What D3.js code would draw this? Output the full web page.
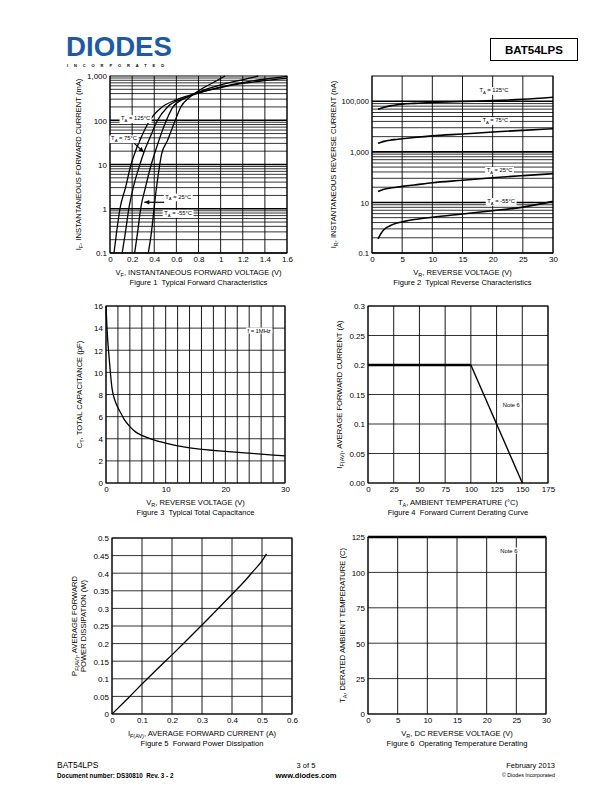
<!DOCTYPE html>
<html><head><meta charset="utf-8">
<script src="https://cdn.jsdelivr.net/npm/d3@7"></script>
<style>body{margin:0;background:#fff}svg{display:block}text{font-family:"Liberation Sans",Arial,sans-serif;fill:#000;white-space:pre}</style>
</head><body><svg id="c" width="612" height="792"></svg>
<script>
// ---------- DATA ----------
// Figure 1: forward characteristics [V_F (V), I_F (mA)]
const f1T125 = [[0.036,0.1],[0.06,0.3],[0.09,1],[0.14,3],[0.19,10],[0.23,20],[0.28,40],[0.36,100],[0.46,190],[0.6,290],[0.8,420],[1.0,550],[1.2,680],[1.4,790],[1.6,880]];
const f1T75  = [[0.11,0.1],[0.14,0.3],[0.17,1],[0.21,3],[0.27,10],[0.31,20],[0.36,40],[0.43,100],[0.52,200],[0.65,300],[0.85,450],[1.05,600],[1.25,750],[1.45,880],[1.6,980]];
const f1T25  = [[0.223,0.1],[0.25,0.3],[0.277,1],[0.32,3],[0.373,10],[0.41,20],[0.45,40],[0.51,100],[0.57,200],[0.68,320],[0.85,480],[1.05,680],[1.25,880],[1.34,1000]];
const f1Tm55 = [[0.346,0.1],[0.375,0.3],[0.398,1],[0.42,3],[0.45,10],[0.466,17],[0.52,35],[0.59,100],[0.64,200],[0.72,330],[0.85,550],[0.95,750],[1.04,1000]];
const f1XTicks = [0,0.2,0.4,0.6,0.8,1,1.2,1.4,1.6];
const f1XLabels = ["0","0.2","0.4","0.6","0.8","1","1.2","1.4","1.6"];
const f1YTicks = [0.1,1,10,100,1000];
const f1YLabels = ["0.1","1","10","100","1,000"];

// Figure 2: reverse characteristics, V_R (V) vs I_R (nA)
const f2V    = [1,1.5,2,3,4,5,7,10,15,20,25,30];
const f2T125 = [48000,53000,58000,66000,72000,77000,83000,90000,98000,106000,120000,145000];
const f2T75  = [2200,2400,2600,2900,3100,3300,3700,4300,5100,6100,7100,8200];
const f2T25  = [27,30,33,37,40,43,49,60,75,95,115,137];
const f2Tm55 = [0.36,0.6,0.85,1.2,1.5,1.7,2.1,2.6,3.5,4.7,6.5,11];
const f2XTicks = [0,5,10,15,20,25,30];
const f2YTicks = [0.1,10,1000,100000];
const f2YLabels = ["0.1","10","1,000","100,000"];

// Figure 3: total capacitance
const f3V = [0,0.15,0.3,0.5,0.8,1.0,1.3,1.6,2,2.5,3,4,5,6,8,10,12,15,20,25,30];
const f3C = [16,14.2,12.8,11.5,9.6,8.6,7.8,7.3,6.8,6.3,5.8,5.1,4.6,4.3,3.9,3.6,3.35,3.1,2.85,2.65,2.45];
const f3XTicks = [0,10,20,30];
const f3YTicks = [0,2,4,6,8,10,12,14,16];

// Figure 4: forward current derating
const f4T = [0,100,150];
const f4I = [0.2,0.2,0];
const f4XTicks = [0,25,50,75,100,125,150,175];
const f4YTicks = [0,0.05,0.1,0.15,0.2,0.25,0.3];
const f4YLabels = ["0.00","0.05","0.1","0.15","0.2","0.25","0.3"];

// Figure 5: forward power dissipation
const f5I = [0,0.05,0.1,0.15,0.2,0.25,0.3,0.35,0.4,0.45,0.47,0.5,0.515];
const f5P = [0,0.042,0.085,0.127,0.168,0.21,0.253,0.296,0.34,0.385,0.405,0.435,0.455];
const f5XTicks = [0,0.1,0.2,0.3,0.4,0.5,0.6];
const f5YTicks = [0,0.05,0.1,0.15,0.2,0.25,0.3,0.35,0.4,0.45,0.5];

// Figure 6: operating temperature derating
const f6V = [0,30];
const f6T = [125,125];
const f6XTicks = [0,5,10,15,20,25,30];
const f6YTicks = [0,25,50,75,100,125];

// ---------- DRAWING ----------
const svg = d3.select("#c");
const FS_TICK = 8, FS_TITLE = 7.6, FS_CAP = 7.6;

function rich(sel, parts, fs) {
  let shift = 0;
  parts.forEach(p => {
    const sub = p.startsWith("_");
    const target = sub ? fs * 0.3 : 0;
    sel.append("tspan").attr("dy", target - shift)
      .attr("font-size", sub ? fs * 0.72 : fs).text(sub ? p.slice(1) : p);
    shift = target;
  });
}

function panel(o) {
  const g = svg.append("g");
  const x = o.x, y = o.y;
  const [X0, X1] = x.range();
  const [Y1, Y0] = y.range();
  g.selectAll(null).data(o.hgrid).join("line")
    .attr("x1", X0).attr("x2", X1).attr("y1", d => y(d.v)).attr("y2", d => y(d.v))
    .attr("stroke", "#000").attr("stroke-width", d => d.w || 0.8);
  g.selectAll(null).data(o.vgrid).join("line")
    .attr("y1", Y0).attr("y2", Y1).attr("x1", d => x(d)).attr("x2", d => x(d))
    .attr("stroke", "#000").attr("stroke-width", 0.9);
  g.append("rect").attr("x", X0).attr("y", Y0).attr("width", X1 - X0).attr("height", Y1 - Y0)
    .attr("fill", "none").attr("stroke", "#000").attr("stroke-width", 1);
  const ax = g.append("g").attr("transform", `translate(0,${Y1})`)
    .call(d3.axisBottom(x).tickValues(o.xticks).tickFormat((d, i) => o.xlabels ? o.xlabels[i] : d).tickSize(0).tickPadding(3));
  const ay = g.append("g").attr("transform", `translate(${X0},0)`)
    .call(d3.axisLeft(y).tickValues(o.yticks).tickFormat((d, i) => o.ylabels ? o.ylabels[i] : d).tickSize(0).tickPadding(3));
  [ax, ay].forEach(a => {
    a.select(".domain").remove();
    a.attr("font-family", null).attr("font-size", null);
    a.selectAll("text").attr("font-size", FS_TICK).attr("fill", "#000");
  });
  if (o.yTickFs) ay.selectAll("text").attr("font-size", o.yTickFs);
  ay.selectAll("text").attr("dy", "0.35em");
  const cx = (X0 + X1) / 2;
  const xt = g.append("text").attr("x", cx).attr("y", Y1 + 21.5).attr("text-anchor", "middle");
  rich(xt, o.xtitle, FS_TITLE);
  g.append("text").attr("x", cx).attr("y", Y1 + 32).attr("text-anchor", "middle")
    .attr("font-size", FS_CAP).text(o.caption);
  o.ytitle.forEach((parts, i) => {
    const t = g.append("text").attr("text-anchor", "middle")
      .attr("transform", `translate(${o.ytx[i]},${(Y0 + Y1) / 2}) rotate(-90)`);
    rich(t, parts, FS_TITLE);
  });
  return g;
}

function label(g, px, py, parts, fs) {
  const t = g.append("text").attr("x", px).attr("y", py).attr("dy", "0.35em");
  rich(t, parts, fs);
  const b = t.node().getBBox();
  g.insert("rect", () => t.node()).attr("x", b.x - 1.5).attr("y", b.y).attr("width", b.width + 3).attr("height", b.height).attr("fill", "#fff");
  return t;
}

const line = d3.line().curve(d3.curveMonotoneX);

// ---- Figure 1 ----
{
  const x = d3.scaleLinear().domain([0, 1.6]).range([110, 287]);
  const y = d3.scaleLog().domain([0.1, 1000]).range([253, 76]);
  const hg = [];
  [0.1, 1, 10, 100].forEach(d => { for (let k = 1; k <= 9; k++) hg.push({v: d * k, w: k === 1 ? 1.7 : 0.8}); });
  const g = panel({x, y, hgrid: hg, vgrid: f1XTicks, xticks: f1XTicks, xlabels: f1XLabels,
    yticks: f1YTicks, ylabels: f1YLabels,
    xtitle: ["V", "_F", ", INSTANTANEOUS FORWARD VOLTAGE (V)"],
    caption: "Figure 1  Typical Forward Characteristics",
    ytitle: [["I", "_F", ", INSTANTANEOUS FORWARD CURRENT (mA)"]], ytx: [81]});
  [f1T125, f1T75, f1T25, f1Tm55].forEach(d => g.append("path")
    .attr("d", line(d.map(p => [x(p[0]), y(p[1])]))).attr("fill", "none").attr("stroke", "#000").attr("stroke-width", 1.3));
  const lf = 5.8;
  label(g, x(0.1), y(100), ["T", "_A", " = 125°C"], lf);
  label(g, x(0.01), y(35), ["T", "_A", " = 75°C"], lf);
  label(g, x(0.5), y(1.7), ["T", "_A", " = 25°C"], lf);
  label(g, x(0.49), y(0.72), ["T", "_A", " = -55°C"], lf);
  const arrow = (a, b) => {
    g.append("line").attr("x1", x(a[0])).attr("y1", y(a[1])).attr("x2", x(b[0])).attr("y2", y(b[1])).attr("stroke", "#000").attr("stroke-width", 1.2);
    const ang = Math.atan2(y(b[1]) - y(a[1]), x(b[0]) - x(a[0]));
    const L = 5, W = 2.3, bx = x(b[0]), by = y(b[1]);
    const p = [[bx, by], [bx - L * Math.cos(ang) + W * Math.sin(ang), by - L * Math.sin(ang) - W * Math.cos(ang)],
               [bx - L * Math.cos(ang) - W * Math.sin(ang), by - L * Math.sin(ang) + W * Math.cos(ang)]];
    g.append("path").attr("d", "M" + p.join("L") + "Z").attr("fill", "#000");
  };
  arrow([0.22, 30], [0.305, 19]);
  arrow([0.49, 1.4], [0.31, 1.4]);
}

// ---- Figure 2 ----
{
  const x = d3.scaleLinear().domain([0, 30]).range([372, 553]);
  const y = d3.scaleLog().domain([0.1, 1e6]).range([253, 76]);
  const hg = [];
  [0.1, 10, 1000].forEach(d => { for (let k = 1; k <= 9; k++) hg.push({v: d * k * k, w: k === 1 ? 1.6 : 0.8}); });
  hg.push({v: 100000, w: 1.6});
  const g = panel({x, y, hgrid: hg, vgrid: f2XTicks, xticks: f2XTicks,
    yticks: f2YTicks, ylabels: f2YLabels, yTickFs: 7.6,
    xtitle: ["V", "_R", ", REVERSE VOLTAGE (V)"],
    caption: "Figure 2  Typical Reverse Characteristics",
    ytitle: [["I", "_R", ", INSTANTANEOUS REVERSE CURRENT (nA)"]], ytx: [336]});
  [f2T125, f2T75, f2T25, f2Tm55].forEach(arr => g.append("path")
    .attr("d", line(f2V.map((v, i) => [x(v), y(arr[i])]))).attr("fill", "none").attr("stroke", "#000").attr("stroke-width", 1.6));
  const lf = 5.8;
  label(g, x(17.8), y(230000), ["T", "_A", " = 125°C"], lf);
  label(g, x(18.3), y(15000), ["T", "_A", " = 75°C"], lf);
  label(g, x(19), y(160), ["T", "_A", " = 25°C"], lf);
  label(g, x(19.1), y(9.5), ["T", "_A", " = -55°C"], lf);
}

// ---- Figure 3 ----
{
  const x = d3.scaleLinear().domain([0, 30]).range([106, 285]);
  const y = d3.scaleLinear().domain([0, 16]).range([483, 306]);
  const g = panel({x, y, hgrid: f3YTicks.map(v => ({v})), vgrid: d3.range(0, 31, 2), xticks: f3XTicks,
    yticks: f3YTicks,
    xtitle: ["V", "_R", ", REVERSE VOLTAGE (V)"],
    caption: "Figure 3  Typical Total Capacitance",
    ytitle: [["C", "_T", ", TOTAL CAPACITANCE (pF)"]], ytx: [82]});
  g.append("path").attr("d", line(f3V.map((v, i) => [x(v), y(f3C[i])]))).attr("fill", "none").attr("stroke", "#000").attr("stroke-width", 1.3);
  label(g, x(23.7), y(13.6), ["f = 1MHz"], 5.8);
}

// ---- Figure 4 ----
{
  const x = d3.scaleLinear().domain([0, 175]).range([368, 548]);
  const y = d3.scaleLinear().domain([0, 0.3]).range([483, 306]);
  const g = panel({x, y, hgrid: f4YTicks.map(v => ({v})), vgrid: f4XTicks, xticks: f4XTicks,
    yticks: f4YTicks, ylabels: f4YLabels,
    xtitle: ["T", "_A", ", AMBIENT TEMPERATURE (°C)"],
    caption: "Figure 4  Forward Current Derating Curve",
    ytitle: [["I", "_F(AV)", ", AVERAGE FORWARD CURRENT (A)"]], ytx: [342]});
  g.append("line").attr("x1", x(f4T[0])).attr("y1", y(f4I[0])).attr("x2", x(f4T[1])).attr("y2", y(f4I[1])).attr("stroke", "#000").attr("stroke-width", 2.5);
  g.append("line").attr("x1", x(f4T[1])).attr("y1", y(f4I[1])).attr("x2", x(f4T[2])).attr("y2", y(f4I[2])).attr("stroke", "#000").attr("stroke-width", 1.4);
  label(g, x(131), y(0.128), ["Note 6"], 5.8);
}

// ---- Figure 5 ----
{
  const x = d3.scaleLinear().domain([0, 0.6]).range([112, 292]);
  const y = d3.scaleLinear().domain([0, 0.5]).range([714, 538]);
  const g = panel({x, y, hgrid: f5YTicks.map(v => ({v})), vgrid: f5XTicks, xticks: f5XTicks,
    yticks: f5YTicks,
    xtitle: ["I", "_F(AV)", ", AVERAGE FORWARD CURRENT (A)"],
    caption: "Figure 5  Forward Power Dissipation",
    ytitle: [["P", "_F(AV)", ", AVERAGE FORWARD"], ["POWER DISSIPATION (W)"]], ytx: [77, 86]});
  g.append("path").attr("d", line(f5I.map((v, i) => [x(v), y(f5P[i])]))).attr("fill", "none").attr("stroke", "#000").attr("stroke-width", 1.3);
}

// ---- Figure 6 ----
{
  const x = d3.scaleLinear().domain([0, 30]).range([368, 546]);
  const y = d3.scaleLinear().domain([0, 125]).range([714, 537]);
  const g = panel({x, y, hgrid: f6YTicks.map(v => ({v})), vgrid: f6XTicks, xticks: f6XTicks,
    yticks: f6YTicks,
    xtitle: ["V", "_R", ", DC REVERSE VOLTAGE (V)"],
    caption: "Figure 6  Operating Temperature Derating",
    ytitle: [["T", "_A", ", DERATED AMBIENT TEMPERATURE (C)"]], ytx: [345]});
  g.append("path").attr("d", line(f6V.map((v, i) => [x(v), y(f6T[i])]))).attr("fill", "none").attr("stroke", "#000").attr("stroke-width", 2.5);
  label(g, x(22.3), y(114), ["Note 6"], 5.8);
}

// ---- Header ----
svg.append("text").attr("x", 66).attr("y", 55.5).attr("font-size", 28).attr("font-weight", 900)
  .attr("font-family", "'DejaVu Sans', sans-serif").attr("textLength", 106).attr("lengthAdjust", "spacingAndGlyphs")
  .style("fill", "#1d5aa6").text("DIODES");
svg.append("text").attr("x", 67).attr("y", 66.5).attr("font-size", 4).attr("font-weight", "bold")
  .attr("letter-spacing", 5.9).text("INCORPORATED");
svg.append("rect").attr("x", 490.5).attr("y", 38.5).attr("width", 87).attr("height", 22)
  .attr("fill", "none").attr("stroke", "#000").attr("stroke-width", 1);
svg.append("text").attr("x", 534).attr("y", 54).attr("text-anchor", "middle").attr("font-size", 11.5)
  .attr("font-weight", "bold").text("BAT54LPS");

// ---- Footer ----
svg.append("text").attr("x", 57).attr("y", 768).attr("font-size", 8.5).text("BAT54LPS");
svg.append("text").attr("x", 57).attr("y", 778).attr("font-size", 6.3).attr("font-weight", "bold").text("Document number: DS30810  Rev. 3 - 2");
svg.append("text").attr("x", 306).attr("y", 768).attr("text-anchor", "middle").attr("font-size", 7.5).text("3 of 5");
svg.append("text").attr("x", 306).attr("y", 778).attr("text-anchor", "middle").attr("font-size", 7.5).attr("font-weight", "bold").text("www.diodes.com");
svg.append("text").attr("x", 555).attr("y", 768).attr("text-anchor", "end").attr("font-size", 7.5).text("February 2013");
svg.append("text").attr("x", 555).attr("y", 777).attr("text-anchor", "end").attr("font-size", 5.3).text("© Diodes Incorporated");
</script></body></html>
